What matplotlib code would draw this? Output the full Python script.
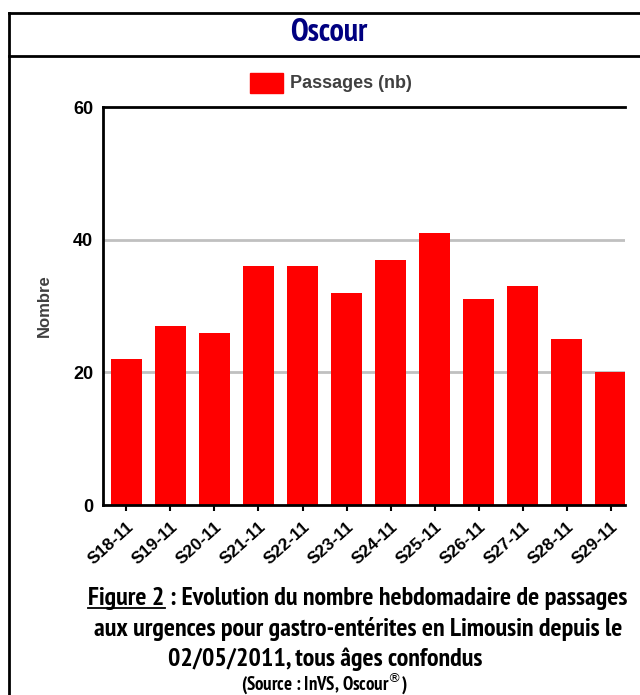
import matplotlib
matplotlib.use('Agg')
import matplotlib.pyplot as plt
from matplotlib.lines import Line2D
from matplotlib.patches import Rectangle

# weekly counts
semaines = ['S18-11', 'S19-11', 'S20-11', 'S21-11', 'S22-11', 'S23-11',
            'S24-11', 'S25-11', 'S26-11', 'S27-11', 'S28-11', 'S29-11']
passages = [22, 27, 26, 36, 36, 32, 37, 41, 31, 33, 25, 20]
y_ticks = [0, 20, 40, 60]

W, H = 640, 695
fig = plt.figure(figsize=(W / 100, H / 100), dpi=100)

narrow = ['PT Sans Narrow', 'DejaVu Sans']
arial = ['Liberation Sans', 'DejaVu Sans']

# outer frame and title box
def fline(x0, y0, x1, y1, lw=2):
    fig.add_artist(Line2D([x0 / W, x1 / W], [1 - y0 / H, 1 - y1 / H],
                          transform=fig.transFigure, color='black', lw=lw))

fline(9, 13, 645, 13)
fline(9, 13, 9, 700)
fline(9, 56, 645, 56)
fig.text(329 / W, 1 - 33 / H, 'Oscour', ha='center', va='center',
         fontsize=23, fontweight='bold', color='#000080', family=narrow)

# axes
ax = fig.add_axes([103 / W, 1 - 505 / H, (625 - 103) / W, (505 - 107) / H])
x = list(range(len(semaines)))
ax.bar(x, passages, width=0.71, color='#ff0000', zorder=2, label='Passages (nb)')
ax.set_xlim(-0.53, 11.32)
ax.set_ylim(0, 60)
ax.set_yticks(y_ticks)
ax.set_yticklabels([str(v) for v in y_ticks], fontsize=13, fontweight='bold',
                   family=arial)
ax.tick_params(axis='y', length=0, pad=7)
ax.set_xticks(x)
ax.set_xticklabels(semaines, rotation=42, ha='right', rotation_mode='anchor',
                   fontsize=12.5, fontweight='bold', family=arial)
ax.tick_params(axis='x', length=4, width=1.5, pad=6)
for v in [20, 40]:
    ax.axhline(v, color='#c0c0c0', lw=2, zorder=1)
for s in ['top', 'left', 'bottom']:
    ax.spines[s].set_linewidth(2)
ax.spines['right'].set_visible(False)
ax.set_ylabel('Nombre', fontsize=12, fontweight='bold', color='#404040',
              family=arial, labelpad=15)

# legend
fig.add_artist(Rectangle((250 / W, 1 - 93 / H), 33 / W, 20 / H,
                         transform=fig.transFigure, color='#ff0000'))
fig.text(290 / W, 1 - 84 / H, 'Passages (nb)', ha='left', va='center',
         fontsize=13, fontweight='bold', color='#404040', family=arial)

# caption
fs = 18.7
lines = ['Figure 2 : Evolution du nombre hebdomadaire de passages',
         'aux urgences pour gastro-entérites en Limousin depuis le',
         '02/05/2011, tous âges confondus']
xs = [358, 358, 325]
ys = [599, 629, 659]
texts = []
for txt, xx, yy in zip(lines, xs, ys):
    texts.append(fig.text(xx / W, 1 - yy / H, txt, ha='center', va='center',
                          fontsize=fs, fontweight='bold', family=narrow))
fig.text(325 / W, 1 - 683 / H, '(Source : InVS, Oscour$^{\\circledR}$)',
         ha='center', va='center', fontsize=13.5, fontweight='bold',
         family=narrow)

fig.canvas.draw()
r = fig.canvas.get_renderer()
bb = texts[0].get_window_extent(r)
tmp = fig.text(0, 0, 'Figure 2', fontsize=fs, fontweight='bold', family=narrow)
w = tmp.get_window_extent(r).width
tmp.remove()
uy = (bb.y0 + 3) / H
fig.add_artist(Line2D([bb.x0 / W, (bb.x0 + w) / W], [uy, uy],
                      transform=fig.transFigure, color='black', lw=1.3))

fig.savefig('out.png', dpi=100)
